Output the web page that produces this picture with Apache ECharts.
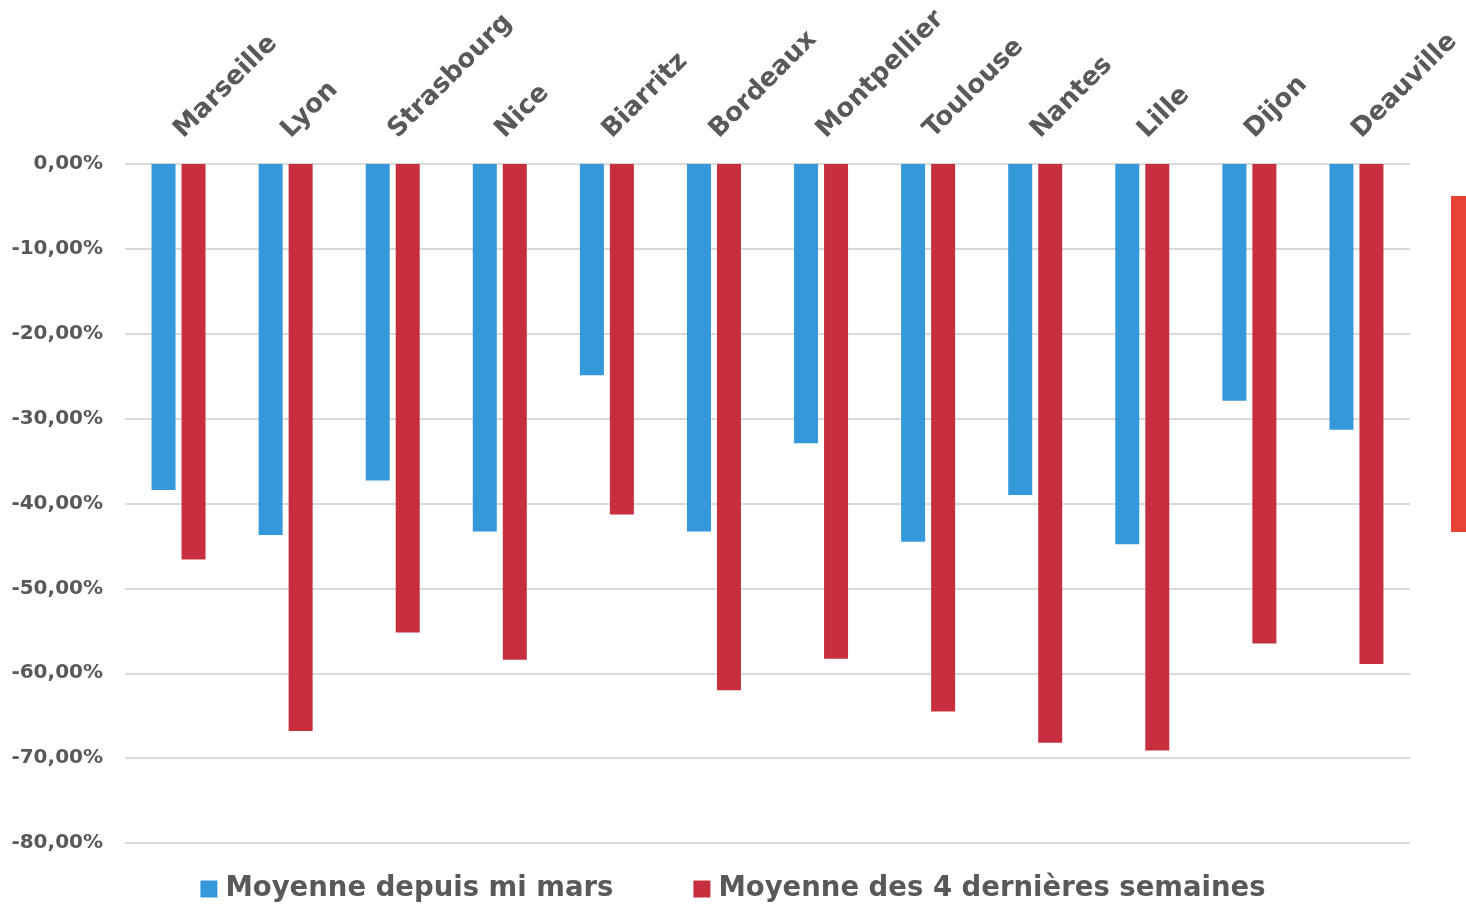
<!DOCTYPE html>
<html><head><meta charset="utf-8">
<script src="https://cdn.jsdelivr.net/npm/echarts@6/dist/echarts.min.js"></script>
<style>html,body{margin:0;padding:0;background:#fff}#c{width:1466px;height:906px}</style>
</head><body><div id="c"></div>
<script>
const categories = ['Marseille','Lyon','Strasbourg','Nice','Biarritz','Bordeaux','Montpellier','Toulouse','Nantes','Lille','Dijon','Deauville'];
const seriesNames = ['Moyenne depuis mi mars','Moyenne des 4 dernières semaines'];
const sinceMidMarch = [-38.4,-43.7,-37.3,-43.3,-24.9,-43.3,-32.9,-44.5,-39.0,-44.8,-27.9,-31.3];
const last4Weeks = [-46.6,-66.8,-55.2,-58.4,-41.3,-62.0,-58.3,-64.5,-68.2,-69.1,-56.5,-58.9];
const FONT = "'DejaVu Sans',sans-serif";
const TXT = '#595959';
const chart = echarts.init(document.getElementById('c'));
chart.setOption({
  animation:false,
  backgroundColor:'#fff',
  grid:{left:125,right:56,top:164,bottom:63,containLabel:false},
  legend:{bottom:-2,left:'center',itemWidth:17,itemHeight:17,itemGap:80,icon:'rect',
    textStyle:{fontFamily:FONT,fontWeight:'bold',fontSize:27.5,color:TXT,padding:[0,0,0,3]},
    data:seriesNames},
  xAxis:{type:'category',position:'top',data:categories,
    axisLine:{show:false},axisTick:{show:false},
    axisLabel:{rotate:45,margin:30,fontFamily:FONT,fontWeight:'bold',fontSize:26,color:TXT,interval:0}},
  yAxis:{type:'value',min:-80,max:0,interval:10,
    axisLine:{show:false},axisTick:{show:false},
    splitLine:{lineStyle:{color:'#d9d9d9',width:2}},
    axisLabel:{margin:22,fontFamily:FONT,fontWeight:'bold',fontSize:20,color:TXT,
      formatter:v=>v.toFixed(2).replace('.',',')+'%'}},
  series:[
    {name:seriesNames[0],type:'bar',data:sinceMidMarch,barWidth:24,barGap:'25%',itemStyle:{color:'#3498db'}},
    {name:seriesNames[1],type:'bar',data:last4Weeks,barWidth:24,barGap:'25%',itemStyle:{color:'#c72e3e'}}
  ],
  graphic:[{type:'rect',right:0,top:196,shape:{width:15,height:336},style:{fill:'#e84135'}}]
});
</script></body></html>
